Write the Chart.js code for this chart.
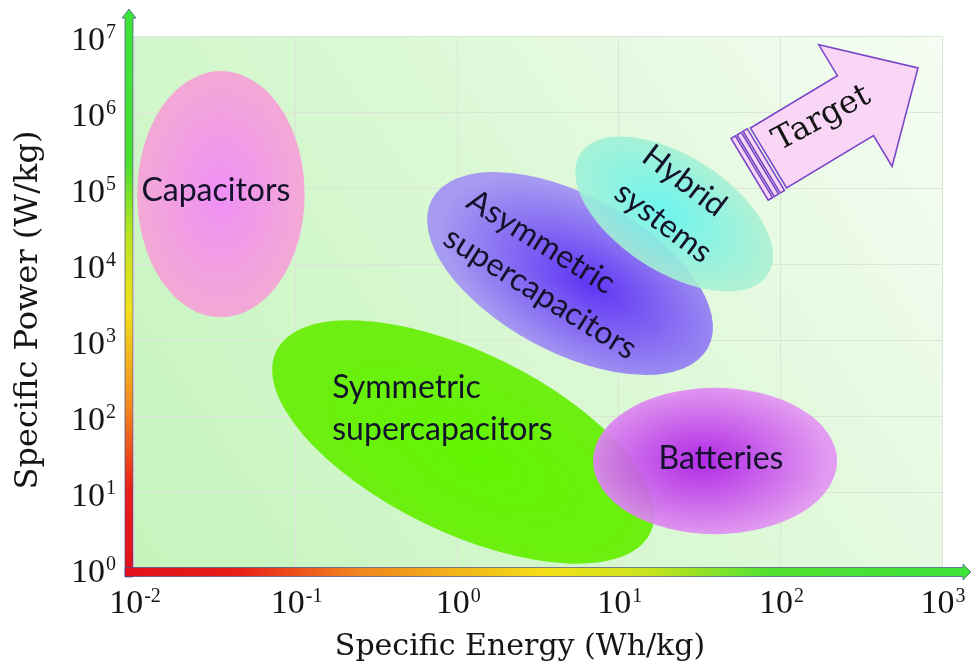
<!DOCTYPE html>
<html>
<head>
<meta charset="utf-8">
<script src="https://cdn.jsdelivr.net/npm/chart.js@4.4.0/dist/chart.umd.min.js"></script>
<style>
  html, body { margin: 0; padding: 0; background: #fff; }
  #ragone { display: block; }
</style>
</head>
<body>
<canvas id="ragone" width="971" height="667"></canvas>
<script>
// tick labels are 10^n
const energyExp = [-2, -1, 0, 1, 2, 3];
const powerExp = [0, 1, 2, 3, 4, 5, 6, 7];

// regions, in drawing order
const regionNames = ['Capacitors', 'Symmetric supercapacitors', 'Batteries', 'Asymmetric supercapacitors', 'Hybrid systems'];
const regionEnergy = [0.0345, 1.09, 39.4, 4.99, 22.0];     // centre, Wh/kg
const regionPower = [8.3e4, 45.5, 25.6, 7500, 45500];       // centre, W/kg
const regionSpanE = [0, 1.157, 0.755, 0.854, 0.581];        // half of long axis, decades of energy
const regionSpanP = [1.62, -1.197, 0, -0.978, -0.793];      // half of long axis, decades of power
const regionAspect = [0.68, 0.433, 0.6, 0.5, 0.518];        // short / long axis

// "Target" arrow, tail -> tip
const targetEnergy = [84.4, 710];
const targetPower = [2.48e5, 3.8e6];

// looks
const regionStyle = [
  { inner: '#f08cf6', outer: '#f4a8d4', alpha: 0.97, gx: 0, gy: 0,
    align: 'center', base: 'alphabetic', dx: -5, dy: 7, rot: 0, lh: 0, split: false },
  { inner: '#62f602', outer: '#6eee12', alpha: 1, gx: 0.1, gy: 0.1,
    align: 'left', base: 'alphabetic', dx: -131, dy: -44, rot: 0, lh: 42, split: true },
  { inner: '#ae1ae6', outer: '#e296f2', alpha: 0.93, gx: -0.1, gy: 0,
    align: 'center', base: 'alphabetic', dx: 6, dy: 8, rot: 0, lh: 0, split: false },
  { inner: '#5a2cf6', outer: '#a496f2', alpha: 0.96, gx: 0.15, gy: 0,
    align: 'left', base: 'middle', dx: -100, dy: -76, rot: 32, lh: 44, split: true },
  { inner: '#5ef4f0', outer: '#a8f0d2', alpha: 0.88, gx: -0.1, gy: 0,
    align: 'left', base: 'middle', dx: -28, dy: -62, rot: 37, lh: 46, split: true }
];
const labelFont = '32px Lato';
const labelColor = '#13122a';
const tickFont = '"Liberation Serif"';

function decadePx(scale) {
  return Math.abs(scale.getPixelForValue(10) - scale.getPixelForValue(1));
}

function drawRegions(chart) {
  const ctx = chart.ctx;
  const xs = chart.scales.x, ys = chart.scales.y;
  const kx = decadePx(xs), ky = decadePx(ys);
  ctx.save();
  ctx.beginPath();
  ctx.rect(chart.chartArea.left, chart.chartArea.top, chart.chartArea.width, chart.chartArea.height);
  ctx.clip();
  regionNames.forEach((name, i) => {
    const st = regionStyle[i];
    const cx = xs.getPixelForValue(regionEnergy[i]);
    const cy = ys.getPixelForValue(regionPower[i]);
    const vx = regionSpanE[i] * kx, vy = -regionSpanP[i] * ky;
    const a = Math.hypot(vx, vy), ang = Math.atan2(vy, vx);
    const b = a * regionAspect[i];
    ctx.save();
    ctx.translate(cx, cy);
    ctx.rotate(ang);
    ctx.scale(1, b / a);
    const g = ctx.createRadialGradient(st.gx * a, st.gy * a, 0, st.gx * a, st.gy * a, a * 1.05);
    g.addColorStop(0, st.inner);
    g.addColorStop(1, st.outer);
    ctx.globalAlpha = st.alpha;
    ctx.fillStyle = g;
    ctx.beginPath();
    ctx.arc(0, 0, a, 0, Math.PI * 2);
    ctx.fill();
    ctx.restore();
  });
  ctx.restore();

  // labels on top of all regions
  regionNames.forEach((name, i) => {
    const st = regionStyle[i];
    const cx = xs.getPixelForValue(regionEnergy[i]);
    const cy = ys.getPixelForValue(regionPower[i]);
    const lines = st.split ? name.split(' ') : [name];
    ctx.save();
    ctx.translate(cx + st.dx, cy + st.dy);
    ctx.rotate(st.rot * Math.PI / 180);
    ctx.font = labelFont;
    ctx.fillStyle = labelColor;
    ctx.textAlign = st.align;
    ctx.textBaseline = st.base;
    lines.forEach((ln, k) => ctx.fillText(ln, 0, k * st.lh));
    ctx.restore();
  });
}

function drawTarget(chart) {
  const ctx = chart.ctx;
  const xs = chart.scales.x, ys = chart.scales.y;
  const x0 = xs.getPixelForValue(targetEnergy[0]), y0 = ys.getPixelForValue(targetPower[0]);
  const x1 = xs.getPixelForValue(targetEnergy[1]), y1 = ys.getPixelForValue(targetPower[1]);
  const L = Math.hypot(x1 - x0, y1 - y0);
  const hw = 35, head = 73, hh = 71;
  ctx.save();
  ctx.translate(x0, y0);
  ctx.rotate(Math.atan2(y1 - y0, x1 - x0));
  ctx.fillStyle = '#f9d6f6';
  ctx.strokeStyle = '#7a46c8';
  ctx.lineWidth = 1.6;
  ctx.lineJoin = 'miter';
  ctx.beginPath();
  ctx.moveTo(0, -hw);
  ctx.lineTo(L - head, -hw);
  ctx.lineTo(L - head, -hh);
  ctx.lineTo(L, 0);
  ctx.lineTo(L - head, hh);
  ctx.lineTo(L - head, hw);
  ctx.lineTo(0, hw);
  ctx.closePath();
  ctx.fill();
  ctx.stroke();
  [[-22, -17], [-15, -10], [-8, -3]].forEach(s => {
    ctx.beginPath();
    ctx.rect(s[0], -hw - 1, s[1] - s[0], 2 * hw + 2);
    ctx.fill();
    ctx.stroke();
  });
  ctx.font = '32px "DejaVu Serif"';
  ctx.fillStyle = '#141414';
  ctx.textAlign = 'center';
  ctx.textBaseline = 'middle';
  ctx.save();
  ctx.translate(66, -6);
  ctx.rotate(3 * Math.PI / 180);
  ctx.fillText('Target', 0, 0);
  ctx.restore();
  ctx.restore();
}

function drawAxes(chart) {
  const ctx = chart.ctx;
  const a = chart.chartArea;
  const ax = a.left - 5, ay = a.bottom + 4;
  ctx.save();
  ctx.strokeStyle = 'rgba(70,80,140,0.7)';
  ctx.lineWidth = 1;

  // vertical arrow
  const gy = ctx.createLinearGradient(0, ay + 5, 0, 9);
  gy.addColorStop(0, '#e2101c');
  gy.addColorStop(0.15, '#e81c18');
  gy.addColorStop(0.3, '#f2881e');
  gy.addColorStop(0.47, '#f3e01a');
  gy.addColorStop(0.6, '#bce41e');
  gy.addColorStop(0.73, '#4ade30');
  gy.addColorStop(1, '#3ee23a');
  ctx.fillStyle = gy;
  ctx.beginPath();
  ctx.moveTo(ax - 4, ay + 5);
  ctx.lineTo(ax - 4, 18);
  ctx.lineTo(ax - 7, 18);
  ctx.lineTo(ax, 9);
  ctx.lineTo(ax + 7, 18);
  ctx.lineTo(ax + 4, 18);
  ctx.lineTo(ax + 4, ay + 5);
  ctx.closePath();
  ctx.fill();
  ctx.stroke();

  // horizontal arrow
  const right = chart.width;
  const gx = ctx.createLinearGradient(ax - 4, 0, right, 0);
  gx.addColorStop(0, '#e2101c');
  gx.addColorStop(0.13, '#e81c18');
  gx.addColorStop(0.27, '#f0821e');
  gx.addColorStop(0.5, '#f4e016');
  gx.addColorStop(0.62, '#c8e41e');
  gx.addColorStop(0.76, '#50e030');
  gx.addColorStop(1, '#3ee23a');
  ctx.fillStyle = gx;
  ctx.beginPath();
  ctx.moveTo(ax - 4, ay - 4.5);
  ctx.lineTo(right - 8, ay - 4.5);
  ctx.lineTo(right - 8, ay - 8);
  ctx.lineTo(right, ay);
  ctx.lineTo(right - 8, ay + 8);
  ctx.lineTo(right - 8, ay + 4.5);
  ctx.lineTo(ax - 4, ay + 4.5);
  ctx.closePath();
  ctx.fill();
  ctx.stroke();
  ctx.restore();
}

function drawPow(ctx, exp, x, y, align) {
  const base = '10', sup = String(exp);
  ctx.font = '34px ' + tickFont;
  const wb = ctx.measureText(base).width;
  ctx.font = '20px ' + tickFont;
  const ws = ctx.measureText(sup).width;
  const w = wb + 1 + ws;
  const x0 = align === 'right' ? x - w : x - w / 2;
  ctx.textAlign = 'left';
  ctx.textBaseline = 'alphabetic';
  ctx.font = '34px ' + tickFont;
  ctx.fillText(base, x0, y);
  ctx.font = '20px ' + tickFont;
  ctx.fillText(sup, x0 + wb + 1, y - 11.5);
}

function drawTicks(chart) {
  const ctx = chart.ctx;
  const a = chart.chartArea;
  ctx.save();
  ctx.fillStyle = '#151515';
  powerExp.forEach(e => {
    const py = chart.scales.y.getPixelForValue(Math.pow(10, e));
    drawPow(ctx, e, a.left - 18, py + 13.5, 'right');
  });
  energyExp.forEach(e => {
    const px = chart.scales.x.getPixelForValue(Math.pow(10, e));
    drawPow(ctx, e, px + 1, a.bottom + 45, 'center');
  });
  ctx.restore();
}

function drawTitles(chart) {
  const ctx = chart.ctx;
  const a = chart.chartArea;
  ctx.save();
  ctx.fillStyle = '#151515';
  ctx.textAlign = 'center';
  ctx.textBaseline = 'alphabetic';
  ctx.font = '30px "DejaVu Serif"';
  ctx.fillText('Specific Energy (Wh/kg)', (a.left + a.right) / 2 - 18, a.bottom + 87);
  ctx.font = '32px "DejaVu Serif"';
  ctx.translate(37, (a.top + a.bottom) / 2 + 8);
  ctx.rotate(-Math.PI / 2);
  ctx.fillText('Specific Power (W/kg)', 0, 0);
  ctx.restore();
}

const ragonePlugin = {
  id: 'ragone',
  beforeDraw(chart) {
    const ctx = chart.ctx, a = chart.chartArea;
    ctx.save();
    ctx.fillStyle = '#ffffff';
    ctx.fillRect(0, 0, chart.width, chart.height);
    const g = ctx.createLinearGradient(a.left, a.bottom, a.right, a.top);
    g.addColorStop(0, '#c4f4bc');
    g.addColorStop(0.5, '#daf8d4');
    g.addColorStop(1, '#f6fdf4');
    ctx.fillStyle = g;
    ctx.fillRect(a.left, a.top, a.right - a.left, a.bottom - a.top);
    ctx.restore();
  },
  afterDraw(chart) {
    drawRegions(chart);
    drawTarget(chart);
    drawAxes(chart);
    drawTicks(chart);
    drawTitles(chart);
  }
};

const gridOpts = { color: '#dbe6d8', lineWidth: 1, drawTicks: false };

new Chart(document.getElementById('ragone'), {
  type: 'scatter',
  data: {
    datasets: [{
      label: 'regions',
      data: regionNames.map((n, i) => ({ x: regionEnergy[i], y: regionPower[i] })),
      pointRadius: 0
    }]
  },
  options: {
    responsive: false,
    animation: false,
    devicePixelRatio: 1,
    layout: { padding: { left: 134, right: 29, top: 36, bottom: 99 } },
    plugins: { legend: { display: false }, tooltip: { enabled: false } },
    scales: {
      x: {
        type: 'logarithmic', min: 0.01, max: 1000,
        afterBuildTicks: s => { s.ticks = energyExp.map(e => ({ value: Math.pow(10, e) })); },
        ticks: { display: false },
        grid: gridOpts,
        border: { display: false }
      },
      y: {
        type: 'logarithmic', min: 1, max: 1e7,
        afterBuildTicks: s => { s.ticks = powerExp.map(e => ({ value: Math.pow(10, e) })); },
        ticks: { display: false },
        grid: gridOpts,
        border: { display: false }
      }
    }
  },
  plugins: [ragonePlugin]
});
</script>
</body>
</html>
